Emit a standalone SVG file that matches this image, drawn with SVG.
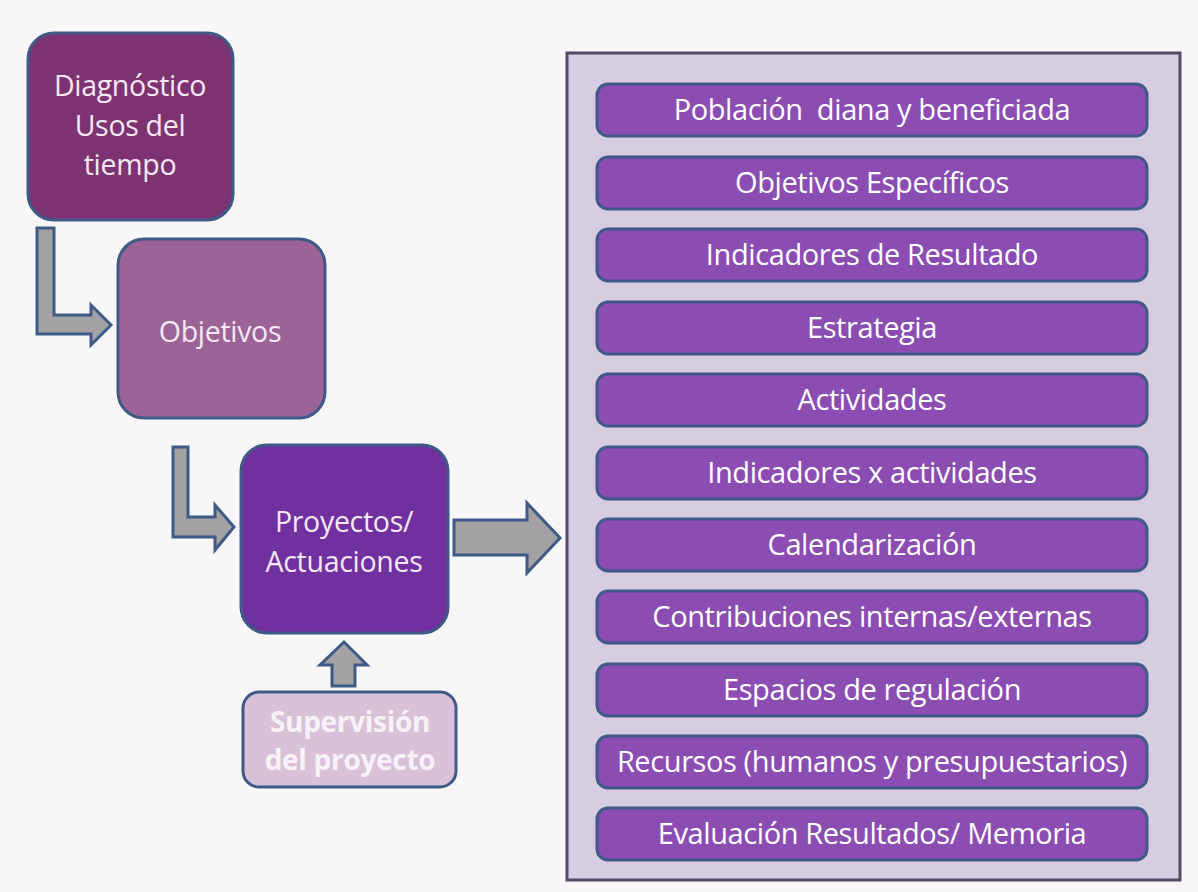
<svg xmlns="http://www.w3.org/2000/svg" width="1198" height="892" viewBox="0 0 1198 892">
<style>
.box{stroke:#3e5a86;stroke-width:3}
.arr{fill:#a3a1a3;stroke:#3e5a86;stroke-width:3;stroke-linejoin:miter}
.lt{font-family:"Open Sans","Liberation Sans",sans-serif;font-size:28.5px;fill:#f6e8f3;text-anchor:middle;letter-spacing:-0.3px}
.bar{fill:#8c4db3;stroke:#3e5a86;stroke-width:3}
.bt{font-family:"Open Sans","Liberation Sans",sans-serif;font-size:29px;fill:#ffffff;text-anchor:middle;letter-spacing:-0.4px}
</style>
<rect width="1198" height="892" fill="#f8f6f6"/>
<g id="connectors">
<path class="arr" d="M37,228 H54 V315 H91 V305 L111,325 L91,345 V334 H37 Z"/>
<path class="arr" d="M173,447 H188 V517 H215 V505 L234,527 L215,550 V537 H173 Z"/>
<path class="arr" d="M454,520 H527 V503 L560,538 L527,573 V555 H454 Z"/>
<path class="arr" d="M332,686 V665 H320 L344,642 L367,665 H355 V686 Z"/>
</g>
<g id="diagnostico">
<rect class="box" x="28" y="33" width="205" height="187" rx="26" fill="#7d3371"/>
<text class="lt" x="130" y="96">Diagnóstico</text>
<text class="lt" x="130" y="136">Usos del</text>
<text class="lt" x="130" y="175">tiempo</text>
</g>
<g id="objetivos">
<rect class="box" x="118" y="239" width="207" height="179" rx="26" fill="#9c6496"/>
<text class="lt" x="220" y="342">Objetivos</text>
</g>
<g id="proyectos">
<rect class="box" x="241" y="445" width="207" height="188" rx="26" fill="#7030a0"/>
<text class="lt" x="344" y="532">Proyectos/</text>
<text class="lt" x="344" y="572">Actuaciones</text>
</g>
<g id="supervision">
<rect class="box" x="243" y="692" width="213" height="95" rx="16" fill="#d9c2d7"/>
<text class="lt" x="350" y="732" style="font-weight:bold;fill:#f8f2f8;font-size:28px">Supervisión</text>
<text class="lt" x="350" y="770" style="font-weight:bold;fill:#f8f2f8;font-size:28px">del proyecto</text>
</g>
<g id="panel">
<rect x="567" y="53" width="613" height="827" fill="#d6cde0" stroke="#564868" stroke-width="3"/>
</g>
<g id="items">
<g id="item1"><rect class="bar" x="597" y="84" width="550" height="52" rx="11"/><text class="bt" x="872" y="120">Población&#160; diana y beneficiada</text></g>
<g id="item2"><rect class="bar" x="597" y="157" width="550" height="52" rx="11"/><text class="bt" x="872" y="193">Objetivos Específicos</text></g>
<g id="item3"><rect class="bar" x="597" y="229" width="550" height="52" rx="11"/><text class="bt" x="872" y="265">Indicadores de Resultado</text></g>
<g id="item4"><rect class="bar" x="597" y="302" width="550" height="52" rx="11"/><text class="bt" x="872" y="338">Estrategia</text></g>
<g id="item5"><rect class="bar" x="597" y="374" width="550" height="52" rx="11"/><text class="bt" x="872" y="410">Actividades</text></g>
<g id="item6"><rect class="bar" x="597" y="447" width="550" height="52" rx="11"/><text class="bt" x="872" y="483">Indicadores x actividades</text></g>
<g id="item7"><rect class="bar" x="597" y="519" width="550" height="52" rx="11"/><text class="bt" x="872" y="555">Calendarización</text></g>
<g id="item8"><rect class="bar" x="597" y="591" width="550" height="52" rx="11"/><text class="bt" x="872" y="627">Contribuciones internas/externas</text></g>
<g id="item9"><rect class="bar" x="597" y="664" width="550" height="52" rx="11"/><text class="bt" x="872" y="700">Espacios de regulación</text></g>
<g id="item10"><rect class="bar" x="597" y="736" width="550" height="52" rx="11"/><text class="bt" x="872" y="772">Recursos (humanos y presupuestarios)</text></g>
<g id="item11"><rect class="bar" x="597" y="808" width="550" height="52" rx="11"/><text class="bt" x="872" y="844">Evaluación Resultados/ Memoria</text></g>
</g>
</svg>
